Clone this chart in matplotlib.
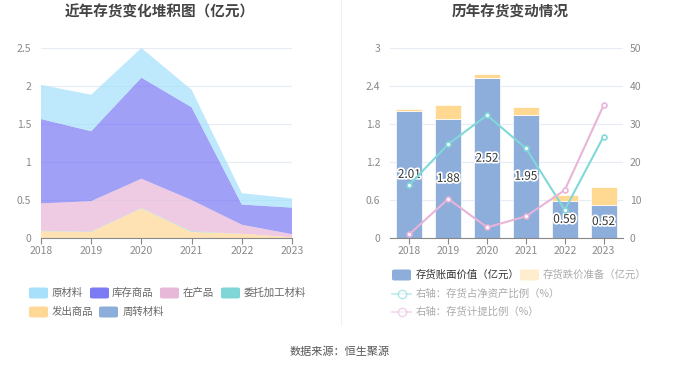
import matplotlib
matplotlib.use("Agg")
import matplotlib.pyplot as plt
from matplotlib.patches import FancyBboxPatch
from matplotlib.lines import Line2D
import matplotlib.patheffects as pe
import numpy as np

plt.rcParams['font.family'] = ['Noto Sans CJK SC', 'DejaVu Sans']

years = ['2018', '2019', '2020', '2021', '2022', '2023']

# Left chart: stacked inventory components (亿元), bottom -> top
fachu = [0.09, 0.08, 0.39, 0.08, 0.055, 0.01]      # 发出商品
zhouzhuan = [0.0, 0.0, 0.0, 0.0, 0.0, 0.0]        # 周转材料
weituo = [0.005, 0.005, 0.005, 0.01, 0.0, 0.0]    # 委托加工材料
zaichan = [0.36, 0.40, 0.385, 0.41, 0.12, 0.04]   # 在产品
kucun = [1.11, 0.92, 1.33, 1.22, 0.265, 0.35]     # 库存商品
yuancailiao = [0.45, 0.48, 0.39, 0.23, 0.15, 0.12]  # 原材料

# Right chart
book_value = [2.01, 1.88, 2.52, 1.95, 0.59, 0.52]   # 存货账面价值
provision = [0.02, 0.22, 0.07, 0.12, 0.09, 0.28]    # 存货跌价准备
ratio_net_assets = [14.0, 24.7, 32.3, 23.6, 7.4, 26.7]  # 存货占净资产比例
ratio_provision = [1.0, 10.3, 2.8, 5.7, 12.6, 34.9]     # 存货计提比例

c_yuan = '#A6E0FA'
c_kucun = '#7B7BF5'
c_zaichan = '#E8B8D8'
c_weituo = '#80D6D6'
c_fachu = '#FFD898'
c_zhouzhuan = '#8DADDB'
c_book = '#8DADDB'
c_prov = '#FFD891'
c_teal = '#80D8D8'
c_pink = '#E8B4D8'
grid_c = '#E6ECF6'
tick_c = '#8A8A8A'

W, H = 680, 367
fig = plt.figure(figsize=(6.8, 3.67), dpi=100)
fig.patch.set_facecolor('white')

def fx(px):
    return px / W

def fy(py):
    return 1 - py / H

# ---------- Left chart ----------
axL = fig.add_axes([fx(41), fy(238), fx(292) - fx(41), fy(48) - fy(238)])
x = np.arange(len(years))
axL.stackplot(x, fachu, zhouzhuan, weituo, zaichan, kucun, yuancailiao,
              colors=[c_fachu, c_zhouzhuan, c_weituo, c_zaichan, c_kucun, c_yuan],
              alpha=0.72, linewidth=0)
axL.set_xlim(0, 5)
axL.set_ylim(0, 2.5)
axL.set_yticks([0, 0.5, 1, 1.5, 2, 2.5])
axL.set_yticklabels(['0', '0.5', '1', '1.5', '2', '2.5'])
axL.set_xticks(x)
axL.set_xticklabels(years)
axL.grid(axis='y', color=grid_c, linewidth=0.8)
axL.set_axisbelow(True)
for s in ['top', 'right', 'left']:
    axL.spines[s].set_visible(False)
axL.spines['bottom'].set_color('#888888')
axL.tick_params(axis='y', length=0, pad=7, labelsize=7.5, colors=tick_c)
axL.tick_params(axis='x', length=4, width=0.8, color='#888888', pad=2, labelsize=7.5, labelcolor=tick_c)

fig.text(fx(160), fy(12), '近年存货变化堆积图（亿元）', ha='center', va='center',
         fontsize=10.5, fontweight='bold', color='#444444')

# ---------- Right chart ----------
axR = fig.add_axes([fx(390), fy(238), fx(623) - fx(390), fy(48) - fy(238)])
axR.bar(x, book_value, width=0.67, color=c_book, edgecolor='white', linewidth=0.5, zorder=2)
axR.bar(x, provision, bottom=book_value, width=0.67, color=c_prov, edgecolor='white', linewidth=0.5, zorder=2)
axR.set_xlim(-0.5, 5.5)
axR.set_ylim(0, 3)
axR.set_yticks([0, 0.6, 1.2, 1.8, 2.4, 3])
axR.set_yticklabels(['0', '0.6', '1.2', '1.8', '2.4', '3'])
axR.set_xticks(x)
axR.set_xticklabels(years)
axR.grid(axis='y', color=grid_c, linewidth=0.8)
axR.set_axisbelow(True)
for s in ['top', 'right', 'left']:
    axR.spines[s].set_visible(False)
axR.spines['bottom'].set_color('#888888')
axR.tick_params(axis='y', length=0, pad=7, labelsize=7.5, colors=tick_c)
axR.tick_params(axis='x', length=4, width=0.8, color='#888888', pad=2, labelsize=7.5, labelcolor=tick_c)

for xi, v in zip(x, book_value):
    axR.text(xi, v / 2, f'{v:.2f}', ha='center', va='center', fontsize=8.5, color='#333333',
             zorder=5, path_effects=[pe.withStroke(linewidth=2.5, foreground='white')])

axR2 = axR.twinx()
axR2.set_ylim(0, 50)
axR2.set_yticks([0, 10, 20, 30, 40, 50])
for s in ['top', 'right', 'left', 'bottom']:
    axR2.spines[s].set_visible(False)
axR2.tick_params(axis='y', length=0, pad=5, labelsize=7.5, colors=tick_c)
axR2.plot(x, ratio_net_assets, color=c_teal, linewidth=1.5, marker='o', markersize=3.5,
          markerfacecolor='white', markeredgecolor=c_teal, markeredgewidth=1.2, zorder=4)
axR2.plot(x, ratio_provision, color=c_pink, linewidth=1.5, marker='o', markersize=3.5,
          markerfacecolor='white', markeredgecolor=c_pink, markeredgewidth=1.2, zorder=4)

fig.text(fx(510), fy(12), '历年存货变动情况', ha='center', va='center',
         fontsize=10.5, fontweight='bold', color='#444444')

# separator
fig.add_artist(Line2D([fx(341), fx(341)], [fy(0), fy(325)], color='#F0F0F0', linewidth=0.8))

# ---------- Legends ----------
def swatch(px, py, color, alpha=1.0):
    w, h = 19, 11
    p = FancyBboxPatch((fx(px), fy(py + h / 2)), fx(w), h / H,
                       boxstyle='round,pad=0,rounding_size=0.004',
                       transform=fig.transFigure, facecolor=color, edgecolor='none', alpha=alpha)
    fig.add_artist(p)

def label(px, py, s, color='#666666'):
    fig.text(fx(px), fy(py), s, ha='left', va='center', fontsize=7.5, color=color)

left_items = [
    (29, 293, c_yuan, '原材料', 52),
    (90, 293, c_kucun, '库存商品', 112),
    (160, 293, c_zaichan, '在产品', 183),
    (221, 293, c_weituo, '委托加工材料', 244),
    (29, 312, c_fachu, '发出商品', 52),
    (99, 312, c_zhouzhuan, '周转材料', 123),
]
for sx, sy, col, txt, tx in left_items:
    swatch(sx, sy, col)
    label(tx, sy, txt)

swatch(392, 275, c_book)
label(416, 275, '存货账面价值（亿元）', color='#333333')
swatch(520, 275, c_prov, alpha=0.45)
label(543, 275, '存货跌价准备（亿元）', color='#aaaaaa')

for py, col, txt in [(294, c_teal, '右轴：存货占净资产比例（%）'),
                     (312, c_pink, '右轴：存货计提比例（%）')]:
    fig.add_artist(Line2D([fx(392), fx(411)], [fy(py), fy(py)], color=col, alpha=0.5, linewidth=1.2))
    fig.add_artist(Line2D([fx(401.5)], [fy(py)], marker='o', markersize=6, markerfacecolor='white',
                          markeredgecolor=col, alpha=0.6, markeredgewidth=1.0, linestyle='none'))
    label(416, py, txt, color='#aaaaaa')

fig.text(fx(340), fy(352), '数据来源：恒生聚源', ha='center', va='center', fontsize=8, color='#555555')

fig.savefig('out.png', dpi=100, facecolor='white')
